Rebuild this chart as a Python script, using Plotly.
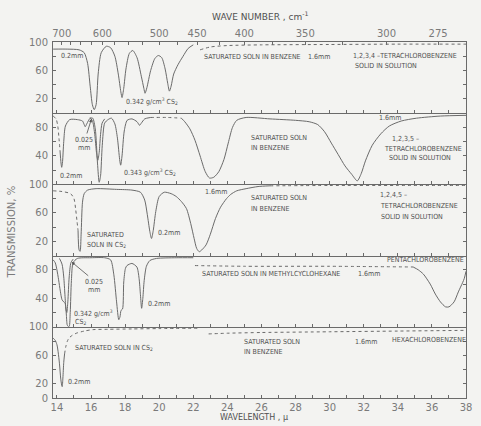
import plotly.graph_objects as go

# ---------------------------------------------------------------
# Infrared transmission spectra of chlorinated benzenes.
# x: wavelength in microns, y: transmission in percent.
# Panels run top to bottom.
# ---------------------------------------------------------------

# Panel 1: 1,2,3,4-tetrachlorobenzene
p1_cs2_x = [13.78, 14.6, 15.3, 15.6, 15.8, 15.95, 16.08, 16.19, 16.3, 16.42, 16.6, 16.9,
            17.15, 17.4, 17.6, 17.75, 17.82, 17.92, 18.05, 18.25, 18.45, 18.7, 18.95,
            19.1, 19.17, 19.28, 19.5, 19.75, 19.95, 20.15, 20.35, 20.5, 20.6, 20.7,
            20.85, 21.1, 21.4, 21.7, 22.0]
p1_cs2_y = [90, 90, 89, 85, 70, 38, 12, 5, 12, 55, 85, 94,
            92, 80, 55, 30, 22, 35, 62, 84, 88, 78, 52,
            35, 28, 36, 60, 77, 81, 78, 62, 42, 31, 38,
            55, 68, 80, 91, 96]
p1_bz_x = [22.4, 23.0, 24.0, 26.0, 30.0, 34.0, 38.0]
p1_bz_y = [89, 93, 95, 96, 96.5, 97, 97]

# Panel 2: 1,2,3,5-tetrachlorobenzene
p2_lead_x = [13.78, 13.95, 14.05, 14.12, 14.18]
p2_lead_y = [96, 92, 82, 65, 48]
p2_cs2_x = [14.18, 14.24, 14.28, 14.33, 14.4, 14.5, 14.75, 15.2, 15.5, 15.6, 15.66, 15.75,
            15.95, 16.1, 16.25, 16.38, 16.48, 16.56, 16.66, 16.8, 17.0, 17.2, 17.4,
            17.55, 17.68, 17.74, 17.82, 17.95, 18.12, 18.4, 18.7, 18.85, 18.95, 19.15, 19.5]
p2_cs2_y = [48, 30, 24, 32, 60, 82, 91, 91, 89, 84, 81, 85,
            93, 93, 78, 30, 3, 12, 55, 86, 91, 93, 85,
            65, 35, 27, 40, 75, 90, 92, 88, 83, 86, 92, 94]
p2_thin_x = [15.95, 16.1, 16.22, 16.32, 16.4, 16.48, 16.56, 16.65, 16.8]
p2_thin_y = [94, 88, 70, 45, 34, 45, 70, 86, 92]
p2_gap_x = [19.5, 20.5, 21.3]
p2_gap_y = [94, 94, 93]
p2_bz_x = [21.3, 21.5, 21.8, 22.1, 22.4, 22.7, 22.95, 23.2, 23.5, 23.8, 24.05, 24.3, 24.55,
           25.1, 26.5, 28.0, 28.8, 29.3, 29.7, 30.1, 30.5, 30.9, 31.3, 31.62, 31.85,
           32.1, 32.5, 33.0, 33.5, 34.2, 35.1, 36.5, 38.0]
p2_bz_y = [93, 88, 78, 62, 40, 18, 9, 10, 18, 35, 58, 80, 90,
           94, 92, 90, 88, 84, 74, 58, 42, 26, 14, 5, 15,
           33, 55, 71, 82, 89, 93, 96, 97]

# Panel 3: 1,2,4,5-tetrachlorobenzene
p3_lead_x = [13.78, 14.3, 14.8, 15.0, 15.1, 15.18, 15.24]
p3_lead_y = [91, 90, 87, 80, 65, 48, 35]
p3_sol_x = [15.24, 15.3, 15.36, 15.42, 15.5, 15.6, 15.8, 16.3, 17.5, 18.4, 18.9, 19.15,
            19.3, 19.45, 19.55, 19.65, 19.8, 20.0, 20.3, 20.7, 21.0, 21.3, 21.6, 21.85,
            22.05, 22.2, 22.35, 22.5, 22.75, 23.0, 23.3, 23.6, 23.95, 24.2, 24.55, 25.1,
            25.8, 26.5]
p3_sol_y = [35, 8, 6, 30, 75, 87, 92, 94, 93, 92, 89, 78,
            58, 34, 24, 35, 62, 83, 89, 87, 83, 76, 66, 45,
            24, 10, 5.5, 8, 15, 30, 52, 68, 80, 86, 91, 94,
            97, 98]
p3_tail_x = [26.5, 30.0, 34.0, 38.0]
p3_tail_y = [98, 98.5, 98.5, 98.5]

# Panel 4: pentachlorobenzene
p4_cs2_x = [13.78, 13.9, 14.0, 14.1, 14.2, 14.3, 14.4, 14.48, 14.55, 14.6, 14.66, 14.72,
            14.78, 14.85, 14.95, 15.2, 16.0, 16.8, 17.15, 17.34, 17.5, 17.63, 17.7,
            17.76, 17.85, 17.92, 18.02, 18.11, 18.4, 18.69, 18.82, 18.9, 18.97, 19.04,
            19.12, 19.25, 19.45, 19.84, 21.0, 22.0]
p4_cs2_y = [94, 90, 80, 66, 50, 38, 35, 33, 18, 3, 0.5, 0.5,
            20, 65, 90, 96, 97, 97, 94, 73, 35, 10, 14,
            23, 25, 63, 82, 86, 89, 84, 68, 45, 26, 40,
            65, 85, 93, 96, 97, 97]
p4_thin_x = [14.15, 14.3, 14.4, 14.47, 14.53, 14.58, 14.64, 14.72, 14.82, 14.95]
p4_thin_y = [96, 88, 70, 45, 25, 20, 35, 70, 90, 95]
p4_mch_x = [22.1, 25.0, 30.0, 34.9]
p4_mch_y = [86, 85, 85, 84]
p4_band_x = [34.9, 35.2, 35.5, 35.9, 36.2, 36.5, 36.8, 37.0, 37.3, 37.55, 37.8, 37.9, 38.0]
p4_band_y = [84, 80, 74, 60, 46, 35, 28, 28, 35, 49, 62, 68, 78]

# Panel 5: hexachlorobenzene
p5_cs2_x = [13.78, 13.9, 14.0, 14.07, 14.15, 14.22, 14.28, 14.31, 14.35, 14.4, 14.45]
p5_cs2_y = [84, 81, 75, 65, 48, 28, 18, 16, 28, 50, 62]
p5_tail_x = [14.45, 14.52, 14.6, 14.7, 14.9, 15.14, 15.6, 16.1, 17.0, 18.4, 20.0, 22.4]
p5_tail_y = [62, 72, 79, 84, 88, 91, 94, 96, 96.5, 97, 97.5, 98]
p5_bz_x = [22.9, 24.0, 26.0, 30.0, 34.0, 38.0]
p5_bz_y = [90, 91, 92, 93, 94, 95]

# Axis ticks
wl_ticks = list(range(14, 39))
wl_labels = [str(v) if v % 2 == 0 else "" for v in wl_ticks]
wn_ticks = [700, 675, 650, 625, 600, 575, 550, 525, 500, 475, 450, 425, 400, 375,
            350, 325, 300, 275]
wn_labels = {700: "700", 600: "600", 500: "500", 450: "450", 400: "400",
             350: "350", 300: "300", 275: "275"}
pct_ticks = [0, 20, 40, 60, 80, 100]
panel_pct_labels = [
    [100, 60, 20],
    [80, 40],
    [100, 60, 20],
    [80, 40],
    [100, 60, 20, 0],
]

# ---------------------------------------------------------------
W, H = 481, 426
L, R, T, B = 53, 472, 42, 398
XR = [13.77, 38.0]
INK = "#6a6a6a"
TXT = "#505050"
TICKTXT = "#7a7a7a"
BG = "#f3f3f1"
NARROW = "DejaVu Sans Condensed, Liberation Sans Narrow, Arial Narrow, sans-serif"
PLAIN = "DejaVu Sans, Liberation Sans, sans-serif"

fig = go.Figure()


def ax(n, kind):
    return kind if n == 1 else f"{kind}{n}"


def curve(panel, xs, ys, dash="solid"):
    n = panel + 1
    fig.add_trace(go.Scatter(
        x=xs, y=ys, xaxis=ax(n, "x"), yaxis=ax(n, "y"), mode="lines",
        line=dict(color=INK, width=1, dash=dash, shape="spline", smoothing=0.7),
        hoverinfo="skip", showlegend=False))


curve(0, p1_cs2_x, p1_cs2_y)
curve(0, p1_bz_x, p1_bz_y, "dot")
curve(1, p2_lead_x, p2_lead_y, "dot")
curve(1, p2_cs2_x, p2_cs2_y)
curve(1, p2_thin_x, p2_thin_y)
curve(1, p2_gap_x, p2_gap_y, "dot")
curve(1, p2_bz_x, p2_bz_y)
curve(2, p3_lead_x, p3_lead_y, "dot")
curve(2, p3_sol_x, p3_sol_y)
curve(2, p3_tail_x, p3_tail_y, "dot")
curve(3, p4_cs2_x, p4_cs2_y)
curve(3, p4_thin_x, p4_thin_y)
curve(3, p4_mch_x, p4_mch_y, "dot")
curve(3, p4_band_x, p4_band_y)
curve(4, p5_cs2_x, p5_cs2_y)
curve(4, p5_tail_x, p5_tail_y, "dot")
curve(4, p5_bz_x, p5_bz_y, "dot")

# invisible trace carrying the wave-number axis
fig.add_trace(go.Scatter(x=XR, y=[-10, -10], xaxis="x6", yaxis="y", mode="lines",
                         line=dict(width=0), hoverinfo="skip", showlegend=False))

layout = dict(
    width=W, height=H,
    margin=dict(l=L, r=W - R, t=T, b=H - B, pad=0),
    paper_bgcolor=BG, plot_bgcolor=BG,
    font=dict(family=PLAIN, color=TXT, size=10),
)

for i in range(5):
    n = i + 1
    top = 1 - i / 5
    bot = 1 - (i + 1) / 5
    bottom_panel = (i == 4)
    layout[f"xaxis{'' if n == 1 else n}"] = dict(
        range=XR, anchor=ax(n, "y"), domain=[0, 1],
        matches=None if n == 1 else "x",
        showline=True, linecolor=INK, linewidth=1, mirror=False,
        ticks="inside", ticklen=3, tickcolor=INK, tickwidth=1,
        tickvals=wl_ticks, ticktext=wl_labels,
        showticklabels=bottom_panel,
        tickfont=dict(family=PLAIN, size=10, color=TICKTXT),
        showgrid=False, zeroline=False, fixedrange=True,
    )
    labels = panel_pct_labels[i]
    layout[f"yaxis{'' if n == 1 else n}"] = dict(
        range=[0, 100], anchor=ax(n, "x"), domain=[bot, top],
        showline=True, linecolor=INK, linewidth=1, mirror="ticks",
        ticks="inside", ticklen=3, tickcolor=INK, tickwidth=1,
        tickvals=pct_ticks,
        ticktext=[str(v) if v in labels else "" for v in pct_ticks],
        tickfont=dict(family=PLAIN, size=10, color=TICKTXT),
        ticklabelstandoff=2,
        showgrid=False, zeroline=False, fixedrange=True,
    )

layout["xaxis6"] = dict(
    range=XR, overlaying="x", anchor="y", side="top",
    showline=True, linecolor=INK, linewidth=1,
    ticks="inside", ticklen=3, tickcolor=INK, tickwidth=1,
    tickvals=[10000.0 / w for w in wn_ticks],
    ticktext=[wn_labels.get(w, "") for w in wn_ticks],
    tickfont=dict(family=PLAIN, size=10, color=TICKTXT),
    showgrid=False, zeroline=False, fixedrange=True,
)

fig.update_layout(**layout)


def px(x):
    return (x - L) / (R - L)


def py(y):
    return (B - y) / (B - T)


def label(text, x, y, size=7, anchor="left", family=NARROW):
    fig.add_annotation(text=text, x=px(x), y=py(y), xref="paper", yref="paper",
                       xanchor=anchor, yanchor="middle", showarrow=False,
                       font=dict(family=family, size=size, color=TXT))


def pointer(x0, y0, x1, y1):
    fig.add_annotation(text="", x=px(x1), y=py(y1), xref="paper", yref="paper",
                       ax=x0 - x1, ay=y0 - y1, axref="pixel", ayref="pixel",
                       showarrow=True, arrowhead=2, arrowsize=0.8, arrowwidth=0.8,
                       arrowcolor=TXT)


# panel 1
label("0.2mm", 59, 56)
label("0.342 g/cm<sup>3</sup> CS<sub>2</sub>", 125, 101)
label("SATURATED SOLN IN BENZENE", 204, 57)
label("1.6mm", 310, 57)
label("1,2,3,4 \u2013TETRACHLOROBENZENE", 355, 56)
label("SOLID IN SOLUTION", 357, 66)
# panel 2
label("0.2mm", 58, 176)
label("0.025", 84, 140, anchor="center")
label("mm", 84, 148, anchor="center")
pointer(87, 135, 92, 119)
label("0.343 g/cm<sup>3</sup> CS<sub>2</sub>", 123, 172)
label("1.6mm", 382, 118)
label("SATURATED SOLN", 252, 138)
label("IN BENZENE", 252, 148)
label("1,2,3,5 \u2013", 395, 139)
label("TETRACHLOROBENZENE", 387, 149)
label("SOLID IN SOLUTION", 392, 158)
# panel 3
label("1.6mm", 205, 192)
label("SATURATED SOLN", 252, 198)
label("IN BENZENE", 252, 209)
label("SATURATED", 85, 235)
label("SOLN IN CS<sub>2</sub>", 85, 245)
label("0.2mm", 157, 233)
label("1,2,4,5 \u2013", 383, 195)
label("TETRACHLOROBENZENE", 383, 206)
label("SOLID IN SOLUTION", 384, 217)
# panel 4
label("0.025", 95, 282, anchor="center")
label("mm", 95, 290, anchor="center")
pointer(90, 277, 72, 262)
label("0.342 g/cm<sup>3</sup>", 72, 313)
label("CS<sub>2</sub>", 73, 322)
label("0.2mm", 147, 304)
label("SATURATED SOLN IN METHYLCYCLOHEXANE", 202, 274)
label("1.6mm", 360, 274)
label("PENTACHLOROBENZENE", 390, 260)
# panel 5
label("SATURATED SOLN IN CS<sub>2</sub>", 73, 348)
label("0.2mm", 66, 382)
label("SATURATED SOLN", 245, 342)
label("IN BENZENE", 245, 352)
label("1.6mm", 357, 342)
label("HEXACHLOROBENZENE", 395, 340)

# axis titles
label("WAVE NUMBER , cm<sup>-1</sup>", 263, 16, size=9, anchor="center", family=PLAIN)
label("WAVELENGTH , \u03bc", 257, 417, size=8, anchor="center", family=PLAIN)
fig.add_annotation(text="TRANSMISSION, %", x=px(10), y=py(232), xref="paper", yref="paper",
                   xanchor="center", yanchor="middle", showarrow=False, textangle=-90,
                   font=dict(family=PLAIN, size=10, color=TICKTXT))

fig.write_html("out.html")
